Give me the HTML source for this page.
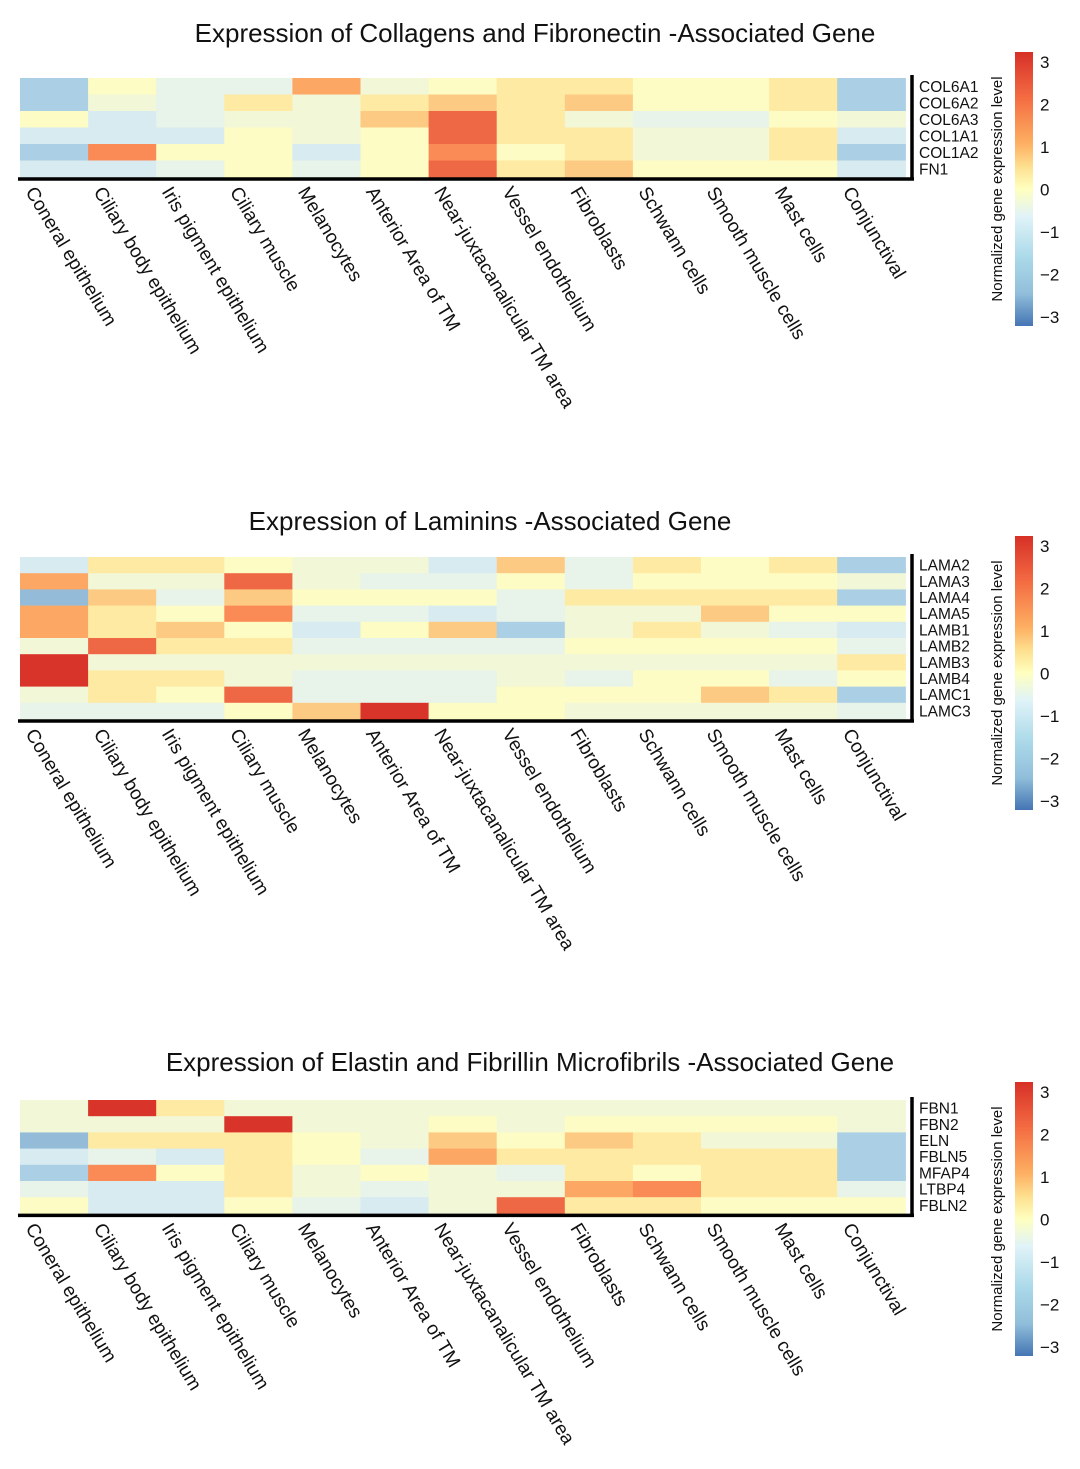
<!DOCTYPE html>
<html><head><meta charset="utf-8"><style>
html,body{margin:0;padding:0;background:#fff;}
svg text{font-family:"Liberation Sans",Arial,sans-serif;fill:#111;}
</style></head><body>
<svg id="s" width="1080" height="1464" xmlns="http://www.w3.org/2000/svg">
<defs>
<linearGradient id="cb" x1="0" y1="0" x2="0" y2="1">
<stop offset="0" stop-color="#d73027"/>
<stop offset="0.17" stop-color="#f46d43"/>
<stop offset="0.33" stop-color="#fdae61"/>
<stop offset="0.42" stop-color="#fee090"/>
<stop offset="0.5" stop-color="#ffffbf"/>
<stop offset="0.6" stop-color="#e0f3f8"/>
<stop offset="0.75" stop-color="#abd9e9"/>
<stop offset="0.88" stop-color="#91bfdb"/>
<stop offset="1" stop-color="#4575b4"/>
</linearGradient>
</defs>
</svg>
<script>
const C={B:"#abcfe4",P:"#94bcd9",b:"#d8ebf1",c:"#e8f3ea",g:"#f2f7d8",y:"#fdfcc4",Y:"#feeaa2",O:"#fdca84",o:"#fca764",r:"#fb8b56",R:"#ef6845",D:"#d8342a"};
const cols=["Coneral epithelium","Ciliary body epithelium","Iris pigment epithelium","Ciliary muscle","Melanocytes","Anterior Area of TM","Near-juxtacanalicular TM area","Vessel endothelium","Fibroblasts","Schwann cells","Smooth muscle cells","Mast cells","Conjunctival"];
const maps=[
{title:"Expression of Collagens and Fibronectin -Associated Gene",tx:535,ty:42,top:78,rh:16.5,genes:["COL6A1","COL6A2","COL6A3","COL1A1","COL1A2","FN1"],
rows:["ByccogyYYyyYB","BgcYgYOYOyyYB","ybcggORYgccyg","bbbygyRYYggYb","BryybyryYggYB","bbcycyRYOyyyb"],cb:52},
{title:"Expression of Laminins -Associated Gene",tx:490,ty:530,top:557,rh:16.2,genes:["LAMA2","LAMA3","LAMA4","LAMA5","LAMB1","LAMB2","LAMB3","LAMB4","LAMC1","LAMC3"],
rows:["bYYyggbOcYyYB","oggRgccycyyyg","POcOyyycYYYYB","oYyrccbcggOyy","oYOybyOBgYgcb","gRYYccccyyyyc","DgggggggggggY","DYYgcccgcyycy","gYyRcccyyyOYB","cccyODyyggggc"],cb:536},
{title:"Expression of Elastin and Fibrillin Microfibrils -Associated Gene",tx:530,ty:1071,top:1100,rh:16.2,genes:["FBN1","FBN2","ELN","FBLN5","MFAP4","LTBP4","FBLN2"],
rows:["gDYgggggggggg","gggDggygyyyyg","PYYYygOyOYggB","bcbYycoYYYYYB","BryYgygcYyYYB","cbbYgcggorYYc","ybbycbgRYYyyy"],cb:1082}
];
let h="";
for(const m of maps){
 h+=`<text x="${m.tx}" y="${m.ty}" font-size="26" text-anchor="middle">${m.title}</text>`;
 const cw=68.1,x0=20;
 m.rows.forEach((r,i)=>{for(let j=0;j<13;j++){h+=`<rect x="${(x0+j*cw).toFixed(1)}" y="${(m.top+i*m.rh).toFixed(1)}" width="${cw+0.6}" height="${m.rh+0.6}" fill="${C[r[j]]}"/>`;}});
 const bot=m.top+m.rows.length*m.rh;
 h+=`<line x1="18" y1="${bot+2}" x2="914" y2="${bot+2}" stroke="#000" stroke-width="3.5"/>`;
 h+=`<line x1="912" y1="${m.top-3}" x2="912" y2="${bot+3.5}" stroke="#000" stroke-width="3.5"/>`;
 m.genes.forEach((g,i)=>{h+=`<text x="919" y="${(m.top+i*m.rh+m.rh/2+5.5).toFixed(1)}" font-size="15.5">${g}</text>`;});
 cols.forEach((c,j)=>{const x=x0+j*cw+16,y=bot+8;h+=`<text x="${x.toFixed(1)}" y="${y}" font-size="19" dominant-baseline="hanging" transform="rotate(59 ${x.toFixed(1)} ${y})">${c}</text>`;});
 const t=m.cb;
 h+=`<rect x="1015" y="${t}" width="18" height="274" fill="url(#cb)"/>`;
 ["3","2","1","0","−1","−2","−3"].forEach((l,k)=>{h+=`<text x="1040" y="${(t+10+k*42.5+6).toFixed(1)}" font-size="17">${l}</text>`;});
 h+=`<text x="1002" y="${t+137}" font-size="15" text-anchor="middle" transform="rotate(-90 1002 ${t+137})">Normalized gene expression level</text>`;
}
document.getElementById("s").insertAdjacentHTML("beforeend",h);
</script>
</body></html>
